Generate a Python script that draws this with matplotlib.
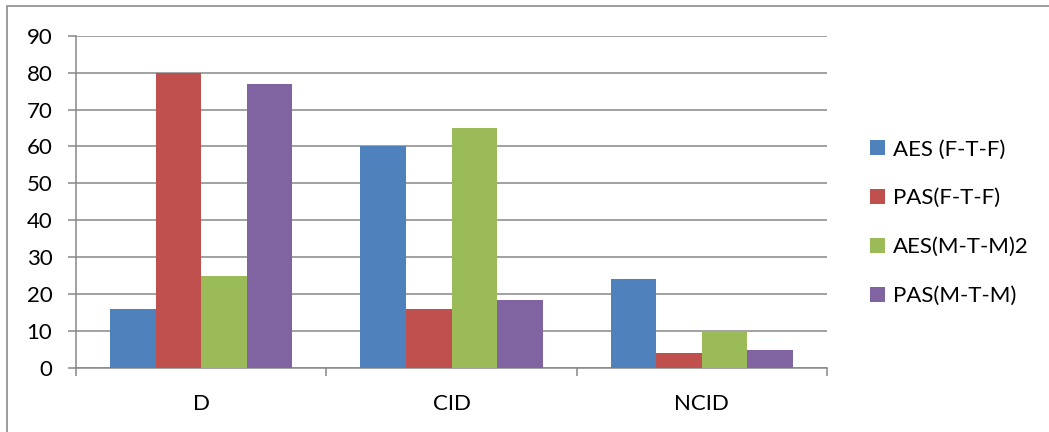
import numpy as np
import matplotlib.pyplot as plt
from matplotlib.patches import Rectangle

plt.rcParams['font.family'] = ['Lato', 'DejaVu Sans']

categories = ['D', 'CID', 'NCID']
series_names = ['AES (F-T-F)', 'PAS(F-T-F)', 'AES(M-T-M)2', 'PAS(M-T-M)']
aes_ftf = [16, 60, 24]
pas_ftf = [80, 16, 4]
aes_mtm2 = [25, 65, 10]
pas_mtm = [77, 18.5, 5]
colors = ['#4F81BD', '#C0504D', '#9BBB59', '#8064A2']

fig = plt.figure(figsize=(10.49, 4.32), dpi=100)
ax = fig.add_axes([76 / 1049, 1 - 368 / 432, (827 - 76) / 1049, (368 - 35.7) / 432])

# outer chart border
fig.patches.append(Rectangle((7 / 1049, -0.05), 1.2, 1 - 6 / 432 + 0.05,
                             transform=fig.transFigure, fill=False,
                             edgecolor='#8c8c8c', linewidth=1.2))

x = np.arange(len(categories))
width = 1 / 5.5
all_series = [aes_ftf, pas_ftf, aes_mtm2, pas_mtm]
for i, (vals, name, c) in enumerate(zip(all_series, series_names, colors)):
    offset = (i - 1.5) * width
    ax.bar(x + offset, vals, width, color=c, label=name, zorder=3)

ax.set_xlim(-0.5, 2.5)
ax.set_ylim(0, 90)
ax.set_yticks(range(0, 91, 10))
ax.yaxis.grid(True, color='#878787', linewidth=1.1, zorder=0)
ax.set_axisbelow(True)

ax.set_xticks(x)
ax.set_xticklabels(categories)
ax.set_xticks([-0.5, 0.5, 1.5, 2.5], minor=True)
ax.tick_params(axis='x', which='major', length=0, pad=19, labelsize=16)
ax.tick_params(axis='x', which='minor', length=6, width=1.1, color='#878787')
ax.tick_params(axis='y', length=6, width=1.1, color='#878787', pad=11, labelsize=16)

for s in ['top', 'right']:
    ax.spines[s].set_visible(False)
for s in ['left', 'bottom']:
    ax.spines[s].set_color('#878787')
    ax.spines[s].set_linewidth(1.1)

ax.legend(loc='center left', bbox_to_anchor=(1.03, 0.437), frameon=False,
          fontsize=16, handlelength=0.7, handleheight=0.7,
          handletextpad=0.35, labelspacing=1.3)

plt.savefig('out.png', dpi=100)
